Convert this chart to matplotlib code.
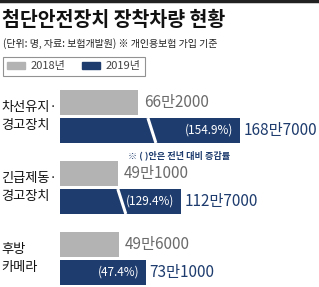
import matplotlib
matplotlib.use('Agg')
import matplotlib.pyplot as plt
from matplotlib.patches import Patch

plt.rcParams['font.family'] = ['Noto Sans CJK KR', 'DejaVu Sans']

categories = ['차선유지·\n경고장치', '긴급제동·\n경고장치', '후방\n카메라']
v2018 = [662000, 491000, 496000]
v2019 = [1687000, 1127000, 731000]
pct = ['(154.9%)', '(129.4%)', '(47.4%)']
cut = [160000, 100000, 0]  # 물결 생략 구간

gray = '#b3b3b3'
navy = '#1e3c6e'

W, H = 319, 287
fig = plt.figure(figsize=(W / 100, H / 100), dpi=100)
ax = fig.add_axes([0, 0, 1, 1])
scale = 1.18 / 10000  # px per 명
x0 = 60
ax.set_xlim(-x0 / scale, (W - x0) / scale)
step = 71
ax.set_ylim((H - 102.5) / step, -102.5 / step)
ax.axis('off')

bh = 25 / step
off = 28 / step


def fmt(v):
    return '{}만{}'.format(v // 10000, str(v % 10000).zfill(4))


for i, cat in enumerate(categories):
    ax.barh(i, v2018[i], height=bh, color=gray, left=0)
    ax.text(v2018[i] + 6 / scale, i, fmt(v2018[i]), va='center', ha='left',
            fontsize=11, color='#6b6b6b')
    L = v2019[i] - cut[i]
    ax.barh(i + off, L, height=bh, color=navy, left=0)
    if cut[i]:
        xs = L * 0.51
        ax.plot([xs - 4 / scale, xs + 4 / scale],
                [i + off - bh / 2, i + off + bh / 2], color='white', lw=2.2,
                solid_capstyle='butt')
    ax.text(L - 7 / scale, i + off, pct[i], va='center', ha='right',
            fontsize=8.5, color='white')
    ax.text(L + 3 / scale, i + off, fmt(v2019[i]), va='center', ha='left',
            fontsize=11, color=navy)
    ax.text(-x0 / scale + 1 / scale, i + off / 2, cat, va='center', ha='left',
            fontsize=9.5, color='#111111', linespacing=1.45)

ax.text(119 / scale, 0 + off + bh / 2 + 12 / step, '※ ( )안은 전년 대비 증감률',
        ha='center', va='center', fontsize=6.6, color=navy, fontweight='bold')

# 제목
fig.add_artist(plt.Line2D([0, 1], [1 - 1 / H, 1 - 1 / H], color='#222222', lw=2.5))
fig.text(2 / W, 1 - 20 / H, '첨단안전장치 장착차량 현황', fontsize=14,
         fontweight='heavy', va='center', ha='left', color='#111111')
fig.text(3 / W, 1 - 44 / H, '(단위: 명, 자료: 보험개발원) ※ 개인용보험 가입 기준',
         fontsize=7.2, va='center', ha='left', color='#222222')

handles = [Patch(color=gray, label='2018년'), Patch(color=navy, label='2019년')]
leg = fig.legend(handles=handles, loc='upper left', ncol=2,
                 bbox_to_anchor=(3 / W, 1 - 57 / H), fontsize=8,
                 frameon=True, fancybox=False, edgecolor='#777777',
                 handlelength=1.6, handleheight=0.7, columnspacing=1.5,
                 handletextpad=0.5, borderpad=0.4, borderaxespad=0)
leg.get_frame().set_linewidth(0.8)
for t in leg.get_texts():
    t.set_color('#444444')

fig.savefig('out.png', dpi=100)
